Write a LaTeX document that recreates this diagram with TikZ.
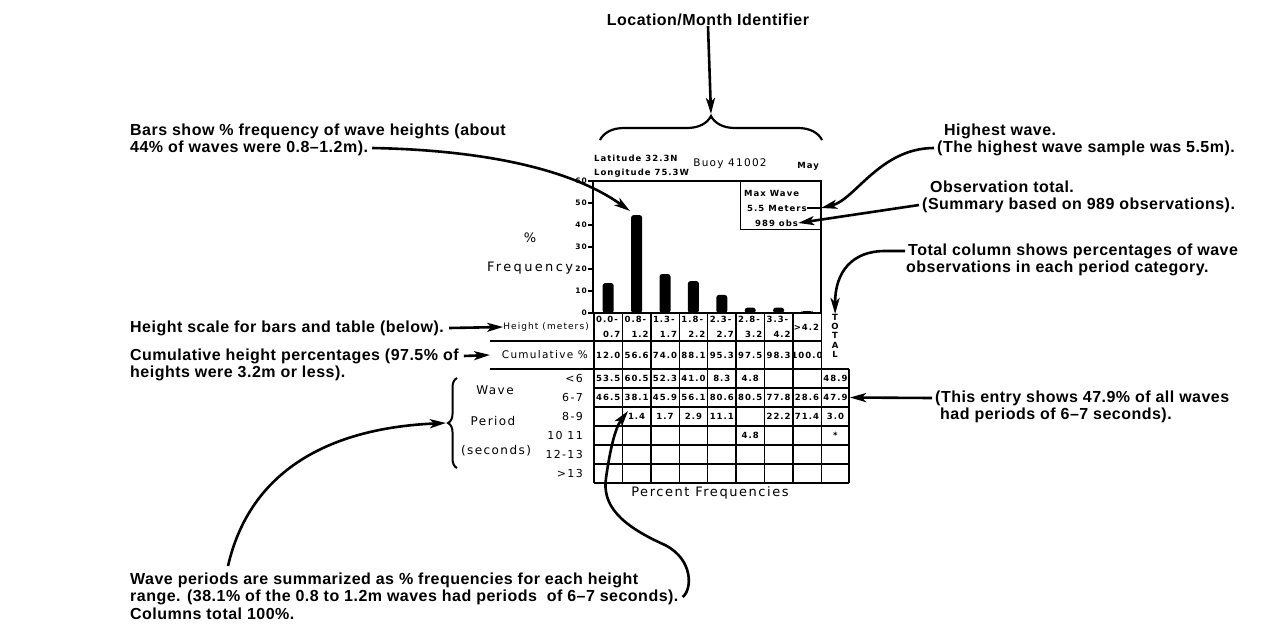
\documentclass[tikz,border=0pt]{standalone}
\usepackage{fontspec}
\setmainfont{Liberation Sans}
\newfontfamily\annfont[LetterSpace=3]{Liberation Sans}
\newfontfamily\pf[LetterSpace=12]{DejaVu Sans}
\usetikzlibrary{arrows.meta,decorations.pathreplacing}
\tikzset{
  ann/.style={font=\fontsize{16}{18}\selectfont\annfont\bfseries, inner sep=0pt, anchor=west},
  arr/.style={line width=2.6pt, -{Stealth[length=16pt,width=9pt,inset=4pt]}},
  tl/.style={line width=1.4pt},
  num/.style={font=\fontsize{8.5}{9}\selectfont\pf\bfseries, inner sep=0pt},
  plab/.style={font=\fontsize{12}{14}\selectfont\pf, inner sep=0pt},
  slab/.style={font=\fontsize{10}{12}\selectfont\pf, inner sep=0pt},
  tick/.style={font=\fontsize{7.5}{8}\selectfont\pf\bfseries, inner sep=0pt, anchor=east},
  bar/.style={fill=black, rounded corners=2.5pt},
}
\begin{document}
\begin{tikzpicture}[x=1pt,y=-1pt]
\useasboundingbox (0,0) rectangle (1287,640);

% ---------- annotations ----------
\node[ann,anchor=center] (loc) at (708,20) {Location/Month Identifier};
\node[ann] (bars1) at (130,131) {Bars show \% frequency of wave heights (about};
\node[ann] (bars2) at (130,148) {44\% of waves were 0.8–1.2m).};
\node[ann] (hw1) at (944,131) {Highest wave.};
\node[ann] (hw2) at (937,148) {(The highest wave sample was 5.5m).};
\node[ann] (ob1) at (930,187) {Observation total.};
\node[ann] (ob2) at (922,205) {(Summary based on 989 observations).};
\node[ann] (tc1) at (908,251) {Total column shows percentages of wave};
\node[ann] (tc2) at (906,268) {observations in each period category.};
\node[ann] (hs) at (130,328) {Height scale for bars and table (below).};
\node[ann] (cu1) at (130,356) {Cumulative height percentages (97.5\% of};
\node[ann] (cu2) at (130,373) {heights were 3.2m or less).};
\node[ann] (te1) at (935,398) {(This entry shows 47.9\% of all waves};
\node[ann] (te2) at (940,415) {had periods of 6–7 seconds).};
\node[ann] (wp1) at (130,580) {Wave periods are summarized as \% frequencies for each height};
\node[ann] (wp2) at (130,597) {range. (38.1\% of the 0.8 to 1.2m waves had periods \ of 6–7 seconds).};
\node[ann] (wp3) at (130,614) {Columns total 100\%.};

% ---------- header of the chart ----------
\draw[line width=2.2pt, decorate, decoration={brace,amplitude=24pt}] (600,140) -- (822,140);
\coordinate (bracetip) at (711,114);
\node[num, anchor=west] (lat) at (594,158) {Latitude 32.3N};
\node[num, anchor=west] (lon) at (594,173) {Longitude 75.3W};
\node[font=\fontsize{10.5}{12}\selectfont\pf, inner sep=0pt] (buoy) at (730,164) {Buoy 41002};
\node[num, anchor=east] (may) at (819,166) {May};

% ---------- plot ----------
\draw[tl] (593,313) -- (593,181) -- (821,181) -- (821,313);
\foreach \v in {0,10,...,60} {
  \draw[tl] (588,{313-2.2*\v}) -- (593,{313-2.2*\v});
  \node[tick] at (587,{313-2.2*\v}) {\v};
}
\foreach \c/\h in {608.2/13.6, 636.6/44.5, 665/17.7, 693.4/14.5, 721.8/8.2, 750.2/2.4, 778.6/2.4, 807/0.9} {
  \fill[bar] ({\c-5.5},313) rectangle ({\c+5.5},{313-2.2*\h});
}
\coordinate (bar2) at (630,211);
\node[draw, tl, minimum width=80pt, minimum height=48pt, anchor=north east, inner sep=0pt] (maxbox) at (821,181) {};
\node[num, anchor=west] (mw) at (744,193) {Max Wave};
\node[num, anchor=west] (m55) at (747,208) {5.5 Meters};
\node[num, anchor=west] (obs) at (755,223) {989 obs};
\draw[tl] (m55.east) -- (maxbox.east |- m55);

% left labels of the plot
\node[plab, font=\fontsize{13}{14}\selectfont\pf\addfontfeature{LetterSpace=18}] (pct) at (530,238) {\%};
\node[plab, font=\fontsize{13}{14}\selectfont\pf\addfontfeature{LetterSpace=18}] (freq) at (530,268) {Frequency};

% ---------- height and cumulative rows ----------
\foreach \i in {0,...,8} \draw[tl] ({594+28.4*\i},313) -- ({594+28.4*\i},369);
\draw[tl] (594,313) -- (821.2,313);
\draw[tl] (490,341) -- (821.2,341);
\draw[tl] (490,369) -- (849,369);
\foreach \i/\a/\b in {0/0.0-/0.7, 1/0.8-/1.2, 2/1.3-/1.7, 3/1.8-/2.2, 4/2.3-/2.7, 5/2.8-/3.2, 6/3.3-/4.2} {
  \node[num, anchor=north west] at ({594+28.4*\i+2},316) {\a};
  \node[num, anchor=south east] at ({594+28.4*(\i+1)-2},338) {\b};
}
\node[num, anchor=east] at ({594+28.4*8-2},327) {>4.2};
\foreach \i/\v in {0/12.0, 1/56.6, 2/74.0, 3/88.1, 4/95.3, 5/97.5, 6/98.3, 7/100.0}
  \node[num] at ({594+28.4*\i+14.2},355) {\v};
\node[slab, anchor=east, font=\fontsize{9}{11}\selectfont\pf] (hl) at (589,327) {Height (meters)};
\node[slab, anchor=east, font=\fontsize{10.5}{12}\selectfont\pf] (cum) at (588,355) {Cumulative \%};
\coordinate (cumtip) at (490,355);
\node[num, align=center, font=\fontsize{8.5}{9.2}\selectfont\pf\bfseries, anchor=north] (totalT) at (835.1,314) {T\\O\\T\\A\\L};

% ---------- period table ----------
\foreach \i in {0,...,8} \draw[tl] ({594+28.4*\i},369) -- ({594+28.4*\i},483);
\draw[tl] (849,369) -- (849,483);
\foreach \r in {1,...,6} \draw[tl] (594,{369+19*\r}) -- (849,{369+19*\r});
\foreach \r/\l in {0/{<6}, 1/{6-7}, 2/{8-9}, 3/{10 11}, 4/{12-13}, 5/{>13}}
  \node[plab, anchor=east, font=\fontsize{11}{12}\selectfont\pf] at (583,{378.5+19*\r}) {\l};
\foreach \r/\i/\v in {0/0/53.5, 0/1/60.5, 0/2/52.3, 0/3/41.0, 0/4/8.3, 0/5/4.8, 0/8/48.9,
  1/0/46.5, 1/2/45.9, 1/3/56.1, 1/4/80.6, 1/5/80.5, 1/6/77.8, 1/7/28.6,
  2/1/1.4, 2/2/1.7, 2/3/2.9, 2/4/11.1, 2/6/22.2, 2/7/71.4, 2/8/3.0,
  3/5/4.8, 3/8/*}
  \node[num] at ({594+28.4*\i+14.2},{378.5+19*\r}) {\v};
\node[num] (c381) at ({594+28.4*1+14.2},397.5) {38.1};
\node[num] (t479) at ({594+28.4*8+14.2},397.5) {47.9};
\coordinate (t479e) at (850,397.5);
\coordinate (c381tip) at (628,411);
\node[plab, font=\fontsize{13}{14}\selectfont\pf] (pf) at (710,493) {Percent Frequencies};

\node[plab] (wave) at (495,390) {Wave};
\node[plab] (period) at (493,421) {Period};
\node[plab] (sec) at (496,451) {(seconds)};
\draw[line width=2pt, decorate, decoration={brace,amplitude=9pt}] (457,468) -- (457,378);
\coordinate (btip) at (446,423);

% ---------- connectors ----------
\draw[arr] (loc.south) -- (bracetip);
\draw[arr] ([xshift=4pt]bars2.east) .. controls (480,150) and (570,168) .. (bar2);
\draw[arr] ([xshift=-3pt]hw2.west) .. controls (880,148) and (855,200) .. (maxbox.east |- m55);
\draw[arr] ([xshift=-3pt]ob2.west) -- (obs.east);
\draw[arr] ([xshift=-3pt]tc1.west) -- (885,251) .. controls (852,251) and (835,272) .. (totalT.north);
\draw[arr] ([xshift=5pt]hs.east) -- (hl.west);
\draw[arr] ([xshift=5pt]cu1.east) -- (cumtip);
\draw[arr] ([xshift=-3pt]te1.west) -- (t479e);
\draw[arr] (228,566) .. controls (250,470) and (330,428) .. (btip);
\draw[arr] ([xshift=4pt]wp2.east) .. controls (692,590) and (694,560) .. (665,545)
  .. controls (620,525) and (602,505) .. (606,478) .. controls (610,450) and (615,428) .. (c381tip);
\end{tikzpicture}
\end{document}
